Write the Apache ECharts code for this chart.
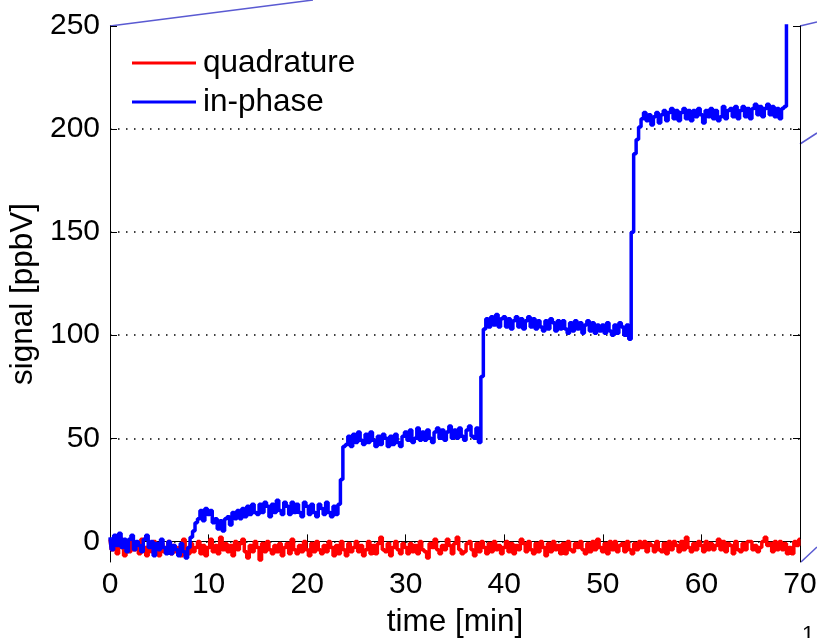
<!DOCTYPE html>
<html>
<head>
<meta charset="utf-8">
<script src="https://cdn.jsdelivr.net/npm/echarts@6/dist/echarts.min.js"></script>
<style>
html,body{margin:0;padding:0;background:#fff;}
#chart{width:817px;height:638px;}
</style>
</head>
<body>
<div id="chart"></div>
<script>
// sampling step of the traces [min]
const sampleStep = 0.25;
const seriesNames = ['quadrature', 'in-phase'];
const yTicks = [0, 50, 100, 150, 200, 250];
const gridLevels = [0, 50, 100, 150, 200];

// in-phase signal [ppbV], one row per minute (4 samples)
const inPhase = [
  2, -4, 3, -2,
  4, -3, 1, -5,
  1, 3, -4, 0,
  -2, -5, 1, 3,
  -3, 0, -7, -1,
  -4, 1, -3, -6,
  0, -6, -2, -4,
  -7, -1, -5, -8,
  -3, 2, 5, 9,
  11, 15, 10, 16,
  13, 15, 9, 11,
  6, 10, 5, 11,
  12, 8, 14, 11,
  15, 11, 16, 12,
  17, 13, 18, 14,
  13, 18, 14, 19,
  17, 12, 18, 14,
  20, 15, 13, 19,
  17, 13, 19, 14,
  18, 14, 12, 19,
  17, 13, 18, 14,
  12, 18, 16, 13,
  19, 14, 12, 17,
  13, 18, 30, 46,
  47, 51, 46, 52,
  48, 53, 49, 47,
  52, 48, 53, 49,
  46, 51, 47, 52,
  50, 46, 51, 47,
  52, 48, 46, 51,
  53, 49, 54, 48,
  50, 55, 49, 53,
  49, 54, 50, 48,
  53, 55, 50, 54,
  49, 53, 56, 50,
  54, 50, 55, 51,
  49, 54, 56, 51,
  50, 55, 48, 80,
  103, 108, 104, 109,
  105, 110, 104, 108,
  109, 104, 108, 103,
  107, 109, 104, 108,
  103, 107, 109, 104,
  108, 103, 107, 104,
  102, 107, 103, 108,
  106, 102, 107, 103,
  107, 103, 101, 106,
  102, 107, 103, 106,
  101, 105, 107, 102,
  106, 101, 105, 102,
  105, 101, 106, 102,
  100, 105, 101, 106,
  104, 100, 105, 98,
  150, 188, 195, 201,
  205, 208, 204, 207,
  202, 206, 208, 203,
  207, 209, 204, 208,
  210, 205, 209, 204,
  208, 210, 205, 209,
  204, 209, 206, 210,
  207, 203, 209, 206,
  210, 205, 209, 204,
  206, 211, 205, 209,
  210, 206, 211, 205,
  209, 211, 206, 210,
  205, 210, 212, 207,
  211, 206, 210, 212,
  207, 211, 206, 210,
  205, 210, 211, 275
];

// quadrature signal [ppbV], one row per minute (4 samples)
const quadrature = [
  1, -4, -1, -6,
  2, -3, -7, -1,
  -5, 0, -4, -2,
  -6, 1, -3, -7,
  -2, -5, 0, -4,
  -7, -1, -5, -3,
  0, -6, -2, -5,
  -3, -7, 1, -4,
  -6, -1, -5, -3,
  0, -6, -2, -7,
  -3, 1, -5, -2,
  -6, 2, -4, -1,
  -5, -2, -7, 0,
  -4, -1, 1, -5,
  -8, -2, -5, 0,
  -3, -9, -1, -5,
  0, -4, -6, -2,
  -5, -1, -7, -3,
  -1, -6, 1, -4,
  -6, -2, -5, 0,
  -4, -7, -1, -5,
  0, -4, -6, -2,
  -5, 0, -3, -7,
  -2, -6, 0, -4,
  -7, -1, -5, -3,
  0, -5, -2, -7,
  -4, 0, -6, -2,
  -6, -1, 2, -4,
  -5, -1, -7, -3,
  0, -4, -6, -1,
  -3, -6, -1, -5,
  -2, -6, 0, -4,
  -5, -8, -1, -3,
  1, -4, -6, -2,
  -4, 1, -2, -6,
  -1, 2, -4, -6,
  -5, -1, 0, -4,
  -7, -1, -5, 0,
  -3, -6, -1, -5,
  0, -4, -2, -6,
  -3, 0, -5, -1,
  -6, -2, -4, 1,
  -1, -5, 0, -4,
  -6, -1, -5, 0,
  -3, -7, -1, -5,
  0, -4, -2, -6,
  -1, -6, 0, -4,
  -5, -1, -3, 0,
  -4, -6, -1, -5,
  0, -4, 1, -3,
  -5, -1, -6, 0,
  -4, 0, -5, -2,
  -1, -5, 0, -4,
  -6, -1, -4, 0,
  -3, 0, -5, -1,
  -2, -5, 0, -4,
  -5, -1, -6, 0,
  -4, 0, -2, -5,
  0, -4, 2, -3,
  -5, -1, -4, 0,
  -2, -5, 0, -4,
  -1, -4, -2, 1,
  -4, 0, -5, -1,
  -2, -6, 0, -4,
  -5, -1, -4, 0,
  0, -4, -2, -5,
  -3, 0, 2, -2,
  -1, -5, 0, -4,
  0, -4, -1, -6,
  -3, -6, 0, -2,
  1
];

function toPairs(vals) {
  return vals.map((v, i) => [i * sampleStep, v]);
}

const FONT = 'Liberation Sans, Arial, sans-serif';
const FS = 30;
const FSN = 31.5;
const chart = echarts.init(document.getElementById('chart'), null, {renderer: 'canvas'});

const axisLineStyle = {color: '#000', width: 1};
const option = {
  animation: false,
  backgroundColor: '#fff',
  grid: {left: 110, right: 17, top: 26, bottom: 76, containLabel: false, outerBoundsMode: 'none'},
  legend: {
    data: seriesNames,
    orient: 'vertical',
    left: 127,
    top: 41,
    icon: 'rect',
    itemWidth: 64,
    itemHeight: 3,
    itemGap: 5,
    textStyle: {fontFamily: FONT, fontSize: FSN, color: '#000', lineHeight: 34, padding: [0, 0, 0, 2]},
    selectedMode: false
  },
  xAxis: [{
    type: 'value', min: 0, max: 70, interval: 10,
    name: 'time [min]', nameLocation: 'middle', nameGap: 44,
    nameTextStyle: {fontFamily: FONT, fontSize: FSN, color: '#000'},
    axisLine: {show: true, lineStyle: axisLineStyle},
    axisTick: {show: true, inside: true, length: 7, lineStyle: axisLineStyle},
    axisLabel: {fontFamily: FONT, fontSize: FS, color: '#000', margin: 8},
    splitLine: {show: false}
  }, {
    type: 'value', min: 0, max: 70, interval: 10, position: 'top',
    axisLine: {show: true, lineStyle: axisLineStyle},
    axisTick: {show: true, inside: true, length: 7, lineStyle: axisLineStyle},
    axisLabel: {show: false},
    splitLine: {show: false}
  }],
  yAxis: [{
    type: 'value', min: -10, max: 250,
    name: 'signal [ppbV]', nameLocation: 'middle', nameGap: 66,
    nameTextStyle: {fontFamily: FONT, fontSize: FSN, color: '#000'},
    axisLine: {show: true, onZero: false, lineStyle: axisLineStyle},
    axisTick: {show: true, inside: true, length: 7, lineStyle: axisLineStyle, customValues: yTicks},
    axisLabel: {fontFamily: FONT, fontSize: FS, color: '#000', margin: 10, customValues: yTicks},
    splitLine: {show: false}
  }, {
    type: 'value', min: -10, max: 250, position: 'right',
    axisLine: {show: true, onZero: false, lineStyle: axisLineStyle},
    axisTick: {show: true, inside: true, length: 7, lineStyle: axisLineStyle, customValues: yTicks},
    axisLabel: {show: false, customValues: yTicks},
    splitLine: {show: false}
  }],
  series: [{
    name: 'quadrature', type: 'line', xAxisIndex: 0, yAxisIndex: 0,
    data: toPairs(quadrature), showSymbol: false, symbol: 'none', step: 'middle',
    color: '#ff0000', lineStyle: {color: '#ff0000', width: 3.5}, z: 3,
    markLine: {
      silent: true, symbol: ['none', 'none'], label: {show: false},
      lineStyle: {color: '#000', type: [1.5, 6.5], width: 1.5},
      data: gridLevels.map(v => ({yAxis: v})),
      z: 1
    }
  }, {
    name: 'in-phase', type: 'line', xAxisIndex: 0, yAxisIndex: 0,
    data: toPairs(inPhase), showSymbol: false, symbol: 'none', clip: true, step: 'middle',
    color: '#0000ff', lineStyle: {color: '#0000ff', width: 3.5}, z: 4
  }],
  graphic: [
    {type: 'line', shape: {x1: 110, y1: 26, x2: 313, y2: 0}, style: {stroke: '#5a5ad2', lineWidth: 1.5}, silent: true},
    {type: 'line', shape: {x1: 800, y1: 26, x2: 817, y2: 22}, style: {stroke: '#5a5ad2', lineWidth: 1.5}, silent: true},
    {type: 'line', shape: {x1: 800, y1: 144, x2: 817, y2: 133}, style: {stroke: '#5a5ad2', lineWidth: 1.5}, silent: true},
    {type: 'line', shape: {x1: 801, y1: 562, x2: 817, y2: 547}, style: {stroke: '#5a5ad2', lineWidth: 1.5}, silent: true},
    {type: 'text', left: 802, top: 624, style: {text: '1', font: '22px ' + FONT, fill: '#000'}, silent: true}
  ]
};
chart.setOption(option);
</script>
</body>
</html>
